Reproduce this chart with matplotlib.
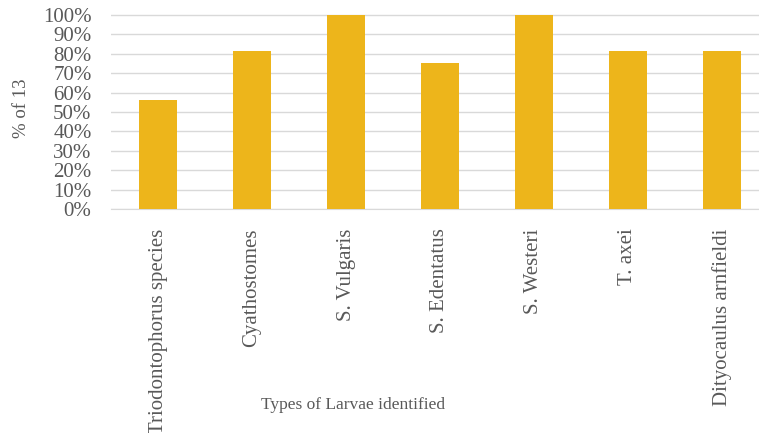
import matplotlib.pyplot as plt
from matplotlib.ticker import PercentFormatter, MultipleLocator

# larvae types and share of positive samples
LARVAE = [
    "Triodontophorus species",
    "Cyathostomes",
    "S. Vulgaris",
    "S. Edentatus",
    "S. Westeri",
    "T. axei",
    "Dityocaulus arnfieldi",
]
SHARE = [56.25, 81.25, 100.0, 75.0, 100.0, 81.25, 81.25]

BAR_COLOR = "#EDB51B"
TEXT_COLOR = "#595959"
GRID_COLOR = "#D9D9D9"


def main():
    plt.rcParams["font.family"] = ["Liberation Serif", "DejaVu Serif"]

    fig = plt.figure(figsize=(7.59, 4.33), dpi=100)
    ax = fig.add_axes([111 / 759, 224 / 433, 658 / 759, 195 / 433])

    xs = range(len(LARVAE))
    ax.bar(xs, SHARE, width=0.41, color=BAR_COLOR, zorder=3)

    ax.set_xlim(-0.5, len(LARVAE) - 0.5)
    ax.set_ylim(0, 100.5)
    ax.yaxis.set_major_locator(MultipleLocator(10))
    ax.yaxis.set_major_formatter(PercentFormatter(decimals=0))
    ax.grid(axis="y", color=GRID_COLOR, linewidth=1, zorder=0)

    ax.set_xticks(list(xs))
    ax.set_xticklabels(LARVAE, rotation=90, va="top")
    ax.tick_params(axis="both", length=0, labelsize=15, colors=TEXT_COLOR)
    ax.tick_params(axis="x", pad=14)
    ax.tick_params(axis="y", pad=14)

    for side in ("top", "right", "left"):
        ax.spines[side].set_visible(False)
    ax.spines["bottom"].set_color(GRID_COLOR)

    ax.set_ylabel("% of 13", fontsize=13.5, color=TEXT_COLOR)
    ax.yaxis.set_label_coords((30 - 111) / 658, (209 - 108) / 195)
    fig.text(353 / 759, 1 - 405 / 433, "Types of Larvae identified",
             ha="center", va="center", fontsize=12.5, color=TEXT_COLOR)

    fig.savefig("out.png", dpi=100)
    plt.close(fig)


if __name__ == "__main__":
    main()
